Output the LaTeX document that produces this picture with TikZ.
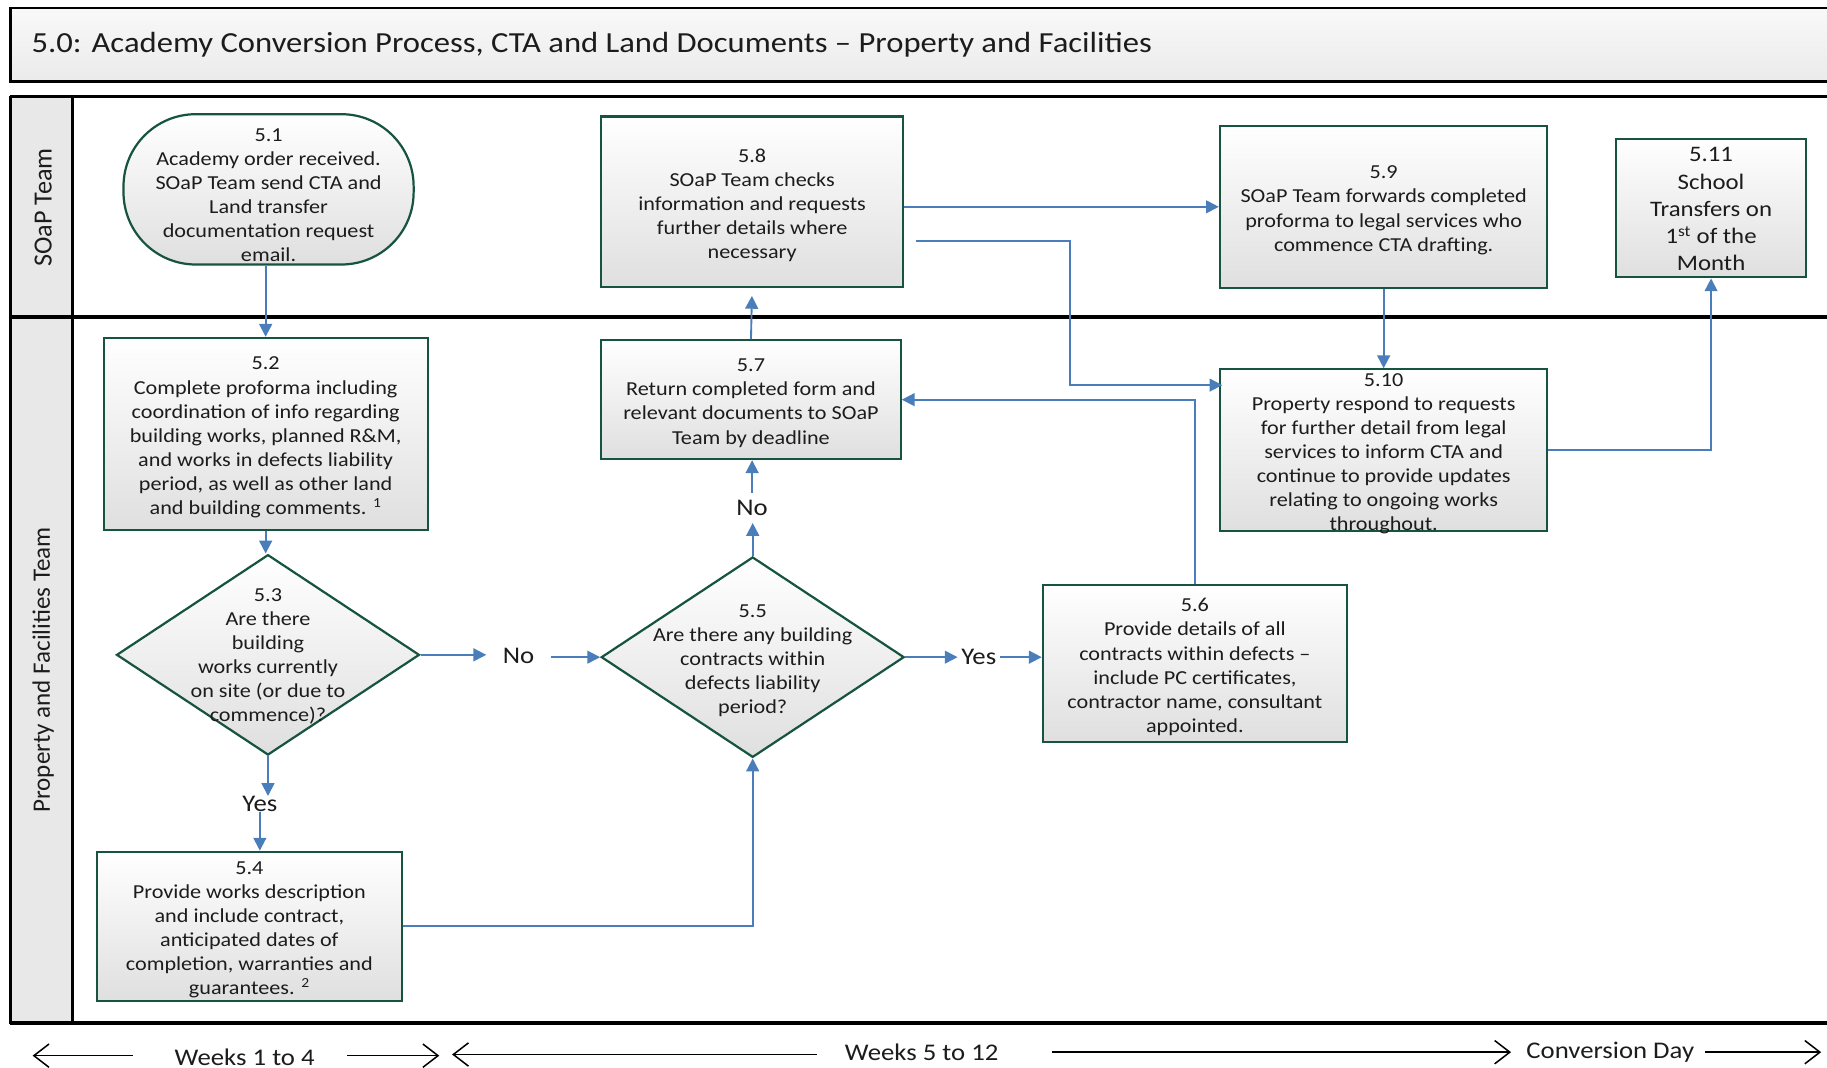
\documentclass[tikz,border=0pt]{standalone}
\usepackage{fontspec}
\setmainfont{Carlito}[FakeStretch=1.12]
\newfontfamily\lanefont{Carlito}
\usetikzlibrary{arrows.meta,shapes.geometric,calc}

\definecolor{flowblue}{RGB}{74,126,187}
\definecolor{boxgreen}{RGB}{22,84,64}
\definecolor{ink}{RGB}{28,28,28}
\definecolor{lanegray}{RGB}{232,232,232}

\begin{document}
\begin{tikzpicture}[x=1pt,y=-1pt,
  every node/.style={text=ink},
  boxtext/.style={font=\fontsize{17}{20.7}\selectfont, align=center, inner sep=0pt, yshift=-3pt},
  bigtext/.style={font=\fontsize{19}{23.3}\selectfont, align=center, inner sep=0pt, yshift=-1pt},
  stepbox/.style={draw=boxgreen, line width=1.9pt, top color=white, bottom color=gray!25,
                  inner sep=0pt, shape=rectangle},
  decision/.style={stepbox, shape=diamond},
  terminal/.style={stepbox, rounded corners=62pt},
  flow/.style={draw=flowblue, line width=1.6pt, -{Triangle[length=11pt,width=11pt]}},
  answer/.style={font=\fontsize{20.5}{24}\selectfont, inner sep=0pt},
  frame/.style={draw=black, line width=2.8pt},
  period/.style={font=\fontsize{20.5}{24}\selectfont, inner sep=0pt},
  timeline/.style={draw=black, line width=1.3pt, -{Straight Barb[length=13pt,width=20pt,line width=1.3pt]}}
]
\useasboundingbox (0,0) rectangle (1568,916);
\begin{scope}
\clip (0,0) rectangle (1568,916);

% title bar
\shade[top color=gray!5, bottom color=gray!16] (9,7) rectangle (1600,70);
\draw[frame, line width=2.2pt] (9,7) rectangle (1600,70);
\node[anchor=west, font=\fontsize{25}{30}\selectfont, inner sep=0pt] (title) at (27,38)
  {5.0: Academy Conversion Process, CTA and Land Documents – Property and Facilities};

% swimlanes
\fill[lanegray] (9,83) rectangle (62,878);
\draw[frame] (9,83) -- (1600,83);
\draw[frame] (9,272) -- (1600,272);
\draw[frame] (9,878) -- (1600,878);
\draw[frame] (9,82) -- (9,879);
\draw[frame] (62,83) -- (62,878);
\node[rotate=90, font=\lanefont\fontsize{22.5}{26}\selectfont, inner sep=0pt] (laneA) at (37,178) {SOaP Team};
\node[rotate=90, font=\lanefont\fontsize{21.5}{25}\selectfont, inner sep=0pt] (laneB) at (37,575) {Property and Facilities Team};

% process steps
\node[terminal, minimum width=249, minimum height=129,
  label={[boxtext, yshift=-2pt]center:{5.1\\Academy order received.\\SOaP Team send CTA and\\Land transfer\\documentation request\\email.}}]
  (n51) at (230.5,162.5) {};
\node[stepbox, minimum width=278, minimum height=165,
  label={[boxtext]center:{5.2\\Complete proforma including\\coordination of info regarding\\building works, planned R\&M,\\and works in defects liability\\period, as well as other land\\and building comments. \textsuperscript{1}}}]
  (n52) at (228,372.5) {};
\node[decision, minimum width=260, minimum height=172,
  label={[boxtext, yshift=1.5pt]center:{5.3\\Are there\\building\\works currently\\on site (or due to\\commence)?}}]
  (n53) at (230,562) {};
\node[stepbox, minimum width=262, minimum height=128,
  label={[boxtext]center:{5.4\\Provide works description\\and include contract,\\anticipated dates of\\completion, warranties and\\guarantees. \textsuperscript{2}}}]
  (n54) at (214,795) {};
\node[decision, minimum width=260, minimum height=172,
  label={[boxtext]center:{5.5\\Are there any building\\contracts within\\defects liability\\period?}}]
  (n55) at (646,564) {};
\node[stepbox, minimum width=261, minimum height=135,
  label={[boxtext]center:{5.6\\Provide details of all\\contracts within defects –\\include PC certificates,\\contractor name, consultant\\appointed.}}]
  (n56) at (1025.5,569.5) {};
\node[stepbox, minimum width=257, minimum height=102,
  label={[boxtext]center:{5.7\\Return completed form and\\relevant documents to SOaP\\Team by deadline}}]
  (n57) at (644.5,343) {};
\node[stepbox, minimum width=259, minimum height=146,
  label={[boxtext]center:{5.8\\SOaP Team checks\\information and requests\\further details where\\necessary}}]
  (n58) at (645.5,173) {};
\node[stepbox, minimum width=281, minimum height=139,
  label={[boxtext]center:{5.9\\SOaP Team forwards completed\\proforma to legal services who\\commence CTA drafting.}}]
  (n59) at (1187.5,177.5) {};
\node[stepbox, minimum width=281, minimum height=139,
  label={[boxtext]center:{5.10\\Property respond to requests\\for further detail from legal\\services to inform CTA and\\continue to provide updates\\relating to ongoing works\\throughout.}}]
  (n510) at (1187.5,386.5) {};
\node[stepbox, minimum width=163, minimum height=119,
  label={[bigtext]center:{5.11\\School\\Transfers on\\1\textsuperscript{st} of the\\Month}}]
  (n511) at (1468.5,178.5) {};

% decision answers
\node[answer, inner xsep=14pt] (noA) at (445,563) {No};
\node[answer, inner xsep=3pt] (yesA) at (840,564) {Yes};
\node[answer, inner ysep=6pt] (noB) at (645.5,436) {No};
\node[answer] (yesB) at (223,690) {Yes};

% connectors
\draw[flow] (n51.south -| n52.north) -- (n52.north);
\draw[flow] (n52.south) -- (n52.south |- n53.north);
\draw[flow] (n53.east) -- (n53.east -| noA.west);
\draw[flow] (noA.east |- n55.west) -- (n55.west);
\draw[flow] (n53.south) -- (n53.south |- yesB.north);
\draw[flow] (yesB.south) -- (yesB.south |- n54.north);
\draw[flow] (n54.east) -| (n55.south);
\draw[flow] (n55.north) -- (n55.north |- noB.south);
\draw[flow] (noB.north) -- (noB.north |- n57.south);
\draw[flow] (n55.east) -- (n55.east -| yesA.west);
\draw[flow] (yesA.east) -- (yesA.east -| n56.west);
\draw[flow] (n56.north) |- (n57.east);
\draw[flow, shorten >=7pt] (n57.north) -- (n58.south);
\draw[flow] (n58.east |- n59.west) -- (n59.west);
\coordinate (c58) at ([xshift=10pt,yshift=-34pt]n58.east);
\draw[flow] (c58) -- ++(132,0) |- ([xshift=3pt,yshift=56pt]n510.west);
\draw[flow] (n59.south) -- (n510.north);
\draw[flow] (n510.east) -| (n511.south);

% timeline
\node[period] (wA) at (210,907) {Weeks 1 to 4};
\node[period] (wB) at (791,903) {Weeks 5 to 12};
\node[period] (cday) at (1382,903) {Conversion Day};
\coordinate (tA) at (28,906);
\coordinate (tB) at (377,906);
\coordinate (tC) at (388,905);
\coordinate (tD) at (1563,903);
\draw[timeline, shorten <=36pt] (wA.west |- tA) -- (tA);
\draw[timeline, shorten <=28pt] (wA.east |- tB) -- (tB);
\draw[timeline, shorten <=24pt] (wB.west |- tC) -- (tC);
\draw[timeline, shorten <=46pt, shorten >=13pt] (wB.east) -- (cday.west);
\draw[timeline, shorten <=9pt] (cday.east) -- (tD);
\end{scope}
\end{tikzpicture}
\end{document}
